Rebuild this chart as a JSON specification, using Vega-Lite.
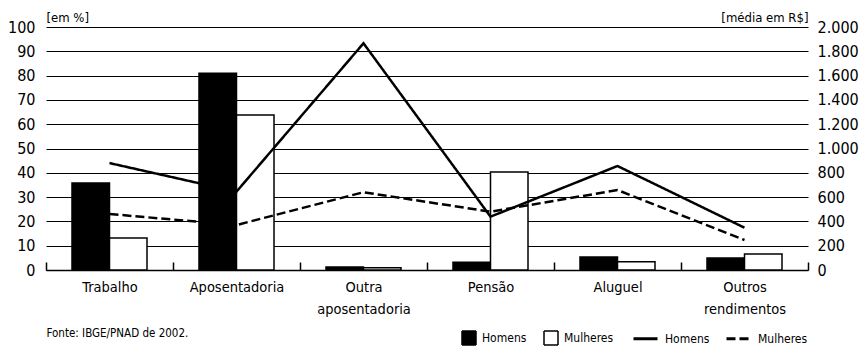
{
  "$schema": "https://vega.github.io/schema/vega-lite/v6.json",
  "width": 762,
  "height": 243,
  "autosize": {"type": "none"},
  "padding": {"left": 46, "top": 27, "right": 54, "bottom": 80},
  "background": "white",
  "config": {
    "font": "DejaVu Sans Condensed, Roboto, sans-serif",
    "locale": {"number": {"decimal": ",", "thousands": ".", "grouping": [3], "currency": ["R$ ", ""]}},
    "view": {"stroke": null},
    "axis": {"labelColor": "black", "titleColor": "black", "titleFontWeight": "normal"},
    "legend": {"labelColor": "black", "padding": 0}
  },
  "datasets": {
    "barras": [
      {"cat": "Trabalho", "sexo": "Homens", "pct": 35.8},
      {"cat": "Trabalho", "sexo": "Mulheres", "pct": 13.2},
      {"cat": "Aposentadoria", "sexo": "Homens", "pct": 81},
      {"cat": "Aposentadoria", "sexo": "Mulheres", "pct": 63.8},
      {"cat": "Outra aposentadoria", "sexo": "Homens", "pct": 1.2},
      {"cat": "Outra aposentadoria", "sexo": "Mulheres", "pct": 0.9},
      {"cat": "Pensão", "sexo": "Homens", "pct": 3.2},
      {"cat": "Pensão", "sexo": "Mulheres", "pct": 40.3},
      {"cat": "Aluguel", "sexo": "Homens", "pct": 5.3},
      {"cat": "Aluguel", "sexo": "Mulheres", "pct": 3.4},
      {"cat": "Outros rendimentos", "sexo": "Homens", "pct": 4.9},
      {"cat": "Outros rendimentos", "sexo": "Mulheres", "pct": 6.6}
    ],
    "rendas": [
      {"cat": "Trabalho", "grupo": "Homens", "renda": 880},
      {"cat": "Aposentadoria", "grupo": "Homens", "renda": 645},
      {"cat": "Outra aposentadoria", "grupo": "Homens", "renda": 1866},
      {"cat": "Pensão", "grupo": "Homens", "renda": 439},
      {"cat": "Aluguel", "grupo": "Homens", "renda": 856},
      {"cat": "Outros rendimentos", "grupo": "Homens", "renda": 348},
      {"cat": "Trabalho", "grupo": "Mulheres", "renda": 461},
      {"cat": "Aposentadoria", "grupo": "Mulheres", "renda": 370},
      {"cat": "Outra aposentadoria", "grupo": "Mulheres", "renda": 640},
      {"cat": "Pensão", "grupo": "Mulheres", "renda": 480},
      {"cat": "Aluguel", "grupo": "Mulheres", "renda": 658},
      {"cat": "Outros rendimentos", "grupo": "Mulheres", "renda": 247}
    ]
  },
  "layer": [
    {
      "data": {"name": "barras"},
      "mark": {"type": "bar", "stroke": "black", "strokeWidth": 1.5},
      "encoding": {
        "x": {
          "field": "cat",
          "type": "nominal",
          "sort": ["Trabalho", "Aposentadoria", "Outra aposentadoria", "Pensão", "Aluguel", "Outros rendimentos"],
          "scale": {"paddingInner": 0, "paddingOuter": 0},
          "axis": {
            "title": "Fonte: IBGE/PNAD de 2002.",
            "titleX": 0,
            "titleY": 63,
            "titleAlign": "left",
            "titleAnchor": "start",
            "titleBaseline": "middle",
            "titleFontSize": 11.5,
            "labelAngle": 0,
            "tickBand": "extent",
            "tickSize": -8,
            "tickColor": "black",
            "tickWidth": 1.5,
            "domainColor": "black",
            "domainWidth": 1.5,
            "labelFontSize": 14.5,
            "labelExpr": "datum.value ? split(datum.value, ' ') : ''",
            "labelLineHeight": 22,
            "labelPadding": 18
          }
        },
        "xOffset": {
          "field": "sexo",
          "sort": ["Homens", "Mulheres"],
          "scale": {"paddingOuter": 0.693, "paddingInner": 0}
        },
        "y": {
          "field": "pct",
          "type": "quantitative",
          "scale": {"domain": [0, 100]},
          "axis": {
            "title": "[em %]",
            "titleAngle": 0,
            "titleAlign": "left",
            "titleBaseline": "middle",
            "titleX": 0,
            "titleY": -10,
            "titleFontSize": 13,
            "values": [0, 10, 20, 30, 40, 50, 60, 70, 80, 90, 100],
            "ticks": false,
            "domain": false,
            "grid": true,
            "gridColor": "black",
            "gridWidth": 1.2,
            "gridOpacity": 1,
            "labelFontSize": 16,
            "labelPadding": 11
          }
        },
        "fill": {
          "field": "sexo",
          "type": "nominal",
          "sort": ["Homens", "Mulheres"],
          "scale": {"range": ["black", "white"]},
          "legend": {
            "title": null,
            "orient": "none",
            "legendX": 415,
            "legendY": 303,
            "direction": "horizontal",
            "symbolType": "square",
            "symbolSize": 196,
            "symbolStrokeColor": "black",
            "symbolStrokeWidth": 1.5,
            "symbolDash": [1, 0],
            "labelFontSize": 12,
            "labelOffset": 5,
            "columnPadding": 14
          }
        }
      }
    },
    {
      "data": {"name": "rendas"},
      "mark": {"type": "line", "color": "black", "strokeWidth": 2.5},
      "encoding": {
        "x": {
          "field": "cat",
          "type": "nominal",
          "sort": ["Trabalho", "Aposentadoria", "Outra aposentadoria", "Pensão", "Aluguel", "Outros rendimentos"]
        },
        "y": {
          "field": "renda",
          "type": "quantitative",
          "scale": {"domain": [0, 2000]},
          "axis": {
            "orient": "right",
            "title": "[média em R$]",
            "titleAngle": 0,
            "titleAlign": "right",
            "titleBaseline": "middle",
            "titleX": 0,
            "titleY": -10,
            "titleFontSize": 13,
            "format": ",d",
            "values": [0, 200, 400, 600, 800, 1000, 1200, 1400, 1600, 1800, 2000],
            "ticks": false,
            "domain": false,
            "grid": false,
            "labelFontSize": 16,
            "labelPadding": 9
          }
        },
        "strokeDash": {
          "field": "grupo",
          "type": "nominal",
          "sort": ["Homens", "Mulheres"],
          "scale": {"range": [[1, 0], [9, 4]]},
          "legend": {
            "title": null,
            "orient": "none",
            "legendX": 586,
            "legendY": 298,
            "direction": "horizontal",
            "symbolType": "stroke",
            "symbolSize": 576,
            "symbolStrokeWidth": 3,
            "symbolStrokeColor": "black",
            "labelFontSize": 12,
            "labelOffset": 6,
            "columnPadding": 10
          }
        }
      }
    }
  ],
  "resolve": {"scale": {"y": "independent"}}
}
